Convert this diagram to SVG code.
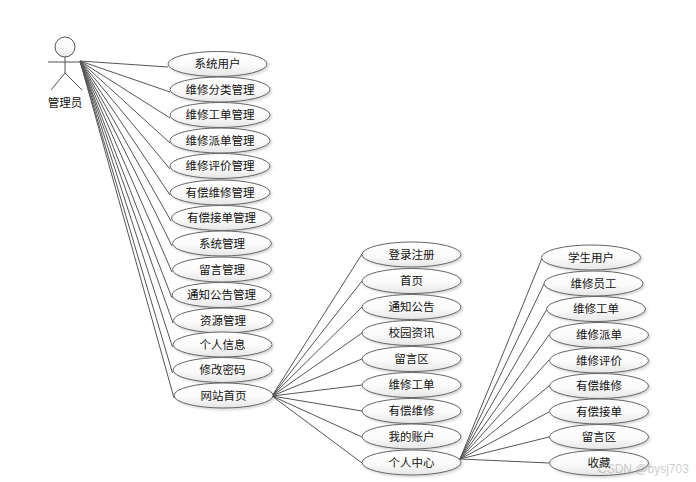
<svg xmlns="http://www.w3.org/2000/svg" width="696" height="482" viewBox="0 0 696 482">
<style>
text{font-family:"Noto Sans CJK SC","Liberation Sans",sans-serif;font-size:11.5px;fill:#111;text-anchor:middle}
.u{fill:url(#g);stroke:#666;stroke-width:1;filter:url(#s)}
.c line{stroke:#555;stroke-width:1}
.a *{fill:none;stroke:#555;stroke-width:1}
.a circle{fill:url(#g)}
.wm{font-family:"Liberation Sans",sans-serif;font-size:12px;fill:#aaa;fill-opacity:.6;text-anchor:start}
</style>
<defs>
<linearGradient id="g" x1="0" y1="0" x2="0" y2="1"><stop offset="0" stop-color="#fff"/><stop offset="0.55" stop-color="#fbfbfb"/><stop offset="1" stop-color="#e6e6e6"/></linearGradient>
<filter id="s" x="-10%" y="-20%" width="125%" height="150%"><feDropShadow dx="1.5" dy="1.5" stdDeviation="1" flood-color="#000" flood-opacity=".18"/></filter>
</defs>
<rect width="696" height="482" fill="#fff"/>
<g id="connectors" class="c">
<line x1="80" y1="61" x2="168" y2="67"/>
<line x1="80" y1="61" x2="170" y2="92"/>
<line x1="80" y1="61" x2="170" y2="118"/>
<line x1="80" y1="61" x2="170" y2="143"/>
<line x1="80" y1="61" x2="170" y2="169"/>
<line x1="80" y1="61" x2="170" y2="195"/>
<line x1="80" y1="61" x2="171" y2="221"/>
<line x1="80" y1="61" x2="172" y2="246"/>
<line x1="80" y1="61" x2="172" y2="272"/>
<line x1="80" y1="61" x2="172" y2="298"/>
<line x1="80" y1="61" x2="173" y2="323"/>
<line x1="80" y1="61" x2="172.5" y2="347"/>
<line x1="80" y1="61" x2="172.5" y2="373"/>
<line x1="80" y1="61" x2="174" y2="398"/>
<line x1="272" y1="396" x2="362" y2="254"/>
<line x1="272" y1="396" x2="362" y2="281"/>
<line x1="272" y1="396" x2="362" y2="307"/>
<line x1="272" y1="396" x2="362" y2="333"/>
<line x1="272" y1="396" x2="362" y2="359"/>
<line x1="272" y1="396" x2="362" y2="385"/>
<line x1="272" y1="396" x2="362" y2="411"/>
<line x1="272" y1="396" x2="362" y2="437"/>
<line x1="272" y1="396" x2="362" y2="463"/>
<line x1="460" y1="459" x2="542" y2="258"/>
<line x1="460" y1="459" x2="544" y2="284"/>
<line x1="460" y1="459" x2="547" y2="309"/>
<line x1="460" y1="459" x2="549" y2="335"/>
<line x1="460" y1="459" x2="549" y2="360"/>
<line x1="460" y1="459" x2="549" y2="386"/>
<line x1="460" y1="459" x2="549" y2="412"/>
<line x1="460" y1="459" x2="549" y2="437"/>
<line x1="460" y1="459" x2="549" y2="463"/>
</g>
<g id="actor" class="a">
<circle cx="65" cy="47" r="10"/>
<line x1="65" y1="57" x2="65" y2="73"/>
<line x1="48" y1="62" x2="81" y2="62"/>
<line x1="65" y1="73" x2="51" y2="90"/>
<line x1="65" y1="73" x2="82" y2="90"/>
</g>
<text x="65" y="107">管理员</text>
<g id="n1"><ellipse class="u" cx="217.5" cy="64" rx="49.5" ry="12.5"/><text x="217.5" y="68">系统用户</text></g>
<g id="n2"><ellipse class="u" cx="220" cy="89.5" rx="50" ry="12.5"/><text x="220" y="94">维修分类管理</text></g>
<g id="n3"><ellipse class="u" cx="220" cy="115" rx="50" ry="12.5"/><text x="220" y="119">维修工单管理</text></g>
<g id="n4"><ellipse class="u" cx="220" cy="140.5" rx="50" ry="12.5"/><text x="220" y="145">维修派单管理</text></g>
<g id="n5"><ellipse class="u" cx="220" cy="166" rx="50" ry="12.5"/><text x="220" y="170">维修评价管理</text></g>
<g id="n6"><ellipse class="u" cx="220" cy="192.5" rx="50" ry="12.5"/><text x="220" y="197">有偿维修管理</text></g>
<g id="n7"><ellipse class="u" cx="221.5" cy="218" rx="50" ry="12.5"/><text x="221.5" y="222">有偿接单管理</text></g>
<g id="n8"><ellipse class="u" cx="222" cy="243.5" rx="49.5" ry="12.5"/><text x="222" y="248">系统管理</text></g>
<g id="n9"><ellipse class="u" cx="222" cy="269.5" rx="49.5" ry="12.5"/><text x="222" y="274">留言管理</text></g>
<g id="n10"><ellipse class="u" cx="221.5" cy="295" rx="49.5" ry="12.5"/><text x="221.5" y="299">通知公告管理</text></g>
<g id="n11"><ellipse class="u" cx="223" cy="320.5" rx="49.5" ry="12.5"/><text x="223" y="325">资源管理</text></g>
<g id="n12"><ellipse class="u" cx="222.5" cy="344.5" rx="49.5" ry="12.5"/><text x="222.5" y="349">个人信息</text></g>
<g id="n13"><ellipse class="u" cx="222.5" cy="370" rx="49.5" ry="12.5"/><text x="222.5" y="374">修改密码</text></g>
<g id="n14"><ellipse class="u" cx="223.5" cy="395.5" rx="49.5" ry="12.5"/><text x="223.5" y="400">网站首页</text></g>
<g id="m1"><ellipse class="u" cx="411.5" cy="254.5" rx="49.5" ry="12.5"/><text x="411.5" y="259">登录注册</text></g>
<g id="m2"><ellipse class="u" cx="411.5" cy="281" rx="49.5" ry="12.5"/><text x="411.5" y="285">首页</text></g>
<g id="m3"><ellipse class="u" cx="411.5" cy="307" rx="49.5" ry="12.5"/><text x="411.5" y="311">通知公告</text></g>
<g id="m4"><ellipse class="u" cx="411.5" cy="333" rx="49.5" ry="12.5"/><text x="411.5" y="337">校园资讯</text></g>
<g id="m5"><ellipse class="u" cx="411.5" cy="359" rx="49.5" ry="12.5"/><text x="411.5" y="363">留言区</text></g>
<g id="m6"><ellipse class="u" cx="411.5" cy="385" rx="49.5" ry="12.5"/><text x="411.5" y="389">维修工单</text></g>
<g id="m7"><ellipse class="u" cx="411.5" cy="411" rx="49.5" ry="12.5"/><text x="411.5" y="415">有偿维修</text></g>
<g id="m8"><ellipse class="u" cx="411.5" cy="436.5" rx="49.5" ry="12.5"/><text x="411.5" y="441">我的账户</text></g>
<g id="m9"><ellipse class="u" cx="411.5" cy="462.5" rx="49.5" ry="12.5"/><text x="411.5" y="467">个人中心</text></g>
<g id="p1"><ellipse class="u" cx="591" cy="257.5" rx="49.5" ry="12.5"/><text x="591" y="262">学生用户</text></g>
<g id="p2"><ellipse class="u" cx="593.5" cy="283.5" rx="49.5" ry="12.5"/><text x="593.5" y="288">维修员工</text></g>
<g id="p3"><ellipse class="u" cx="596" cy="309" rx="49.5" ry="12.5"/><text x="596" y="313">维修工单</text></g>
<g id="p4"><ellipse class="u" cx="599" cy="335" rx="49.5" ry="12.5"/><text x="599" y="339">维修派单</text></g>
<g id="p5"><ellipse class="u" cx="599" cy="360.5" rx="49.5" ry="12.5"/><text x="599" y="365">维修评价</text></g>
<g id="p6"><ellipse class="u" cx="599" cy="386" rx="49.5" ry="12.5"/><text x="599" y="390">有偿维修</text></g>
<g id="p7"><ellipse class="u" cx="599" cy="411.5" rx="49.5" ry="12.5"/><text x="599" y="416">有偿接单</text></g>
<g id="p8"><ellipse class="u" cx="599" cy="437" rx="49.5" ry="12.5"/><text x="599" y="441">留言区</text></g>
<g id="p9"><ellipse class="u" cx="599" cy="463" rx="49.5" ry="12.5"/><text x="599" y="467">收藏</text></g>
<text class="wm" x="598" y="473">CSDN @bysj703</text>
</svg>
